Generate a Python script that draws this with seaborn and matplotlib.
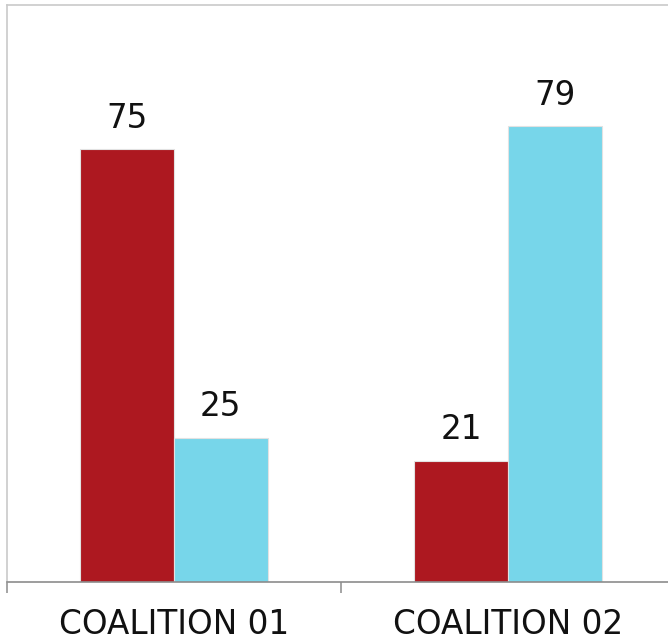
import numpy as np
import pandas as pd
import matplotlib
matplotlib.use("Agg")
import matplotlib.pyplot as plt
import seaborn as sns

# data
categories = ["COALITION 01", "COALITION 02"]
series = ["A", "B"]
values_a = [75, 21]
values_b = [25, 79]
colors = ["#AD1820", "#77D6EA"]

df = pd.DataFrame({
    "category": categories * 2,
    "series": [series[0]] * 2 + [series[1]] * 2,
    "value": values_a + values_b,
})

sns.set_style("white")
plt.rcParams["font.family"] = ["DejaVu Sans"]

fig = plt.figure(figsize=(6.68, 6.42), dpi=100)
ax = fig.add_axes([7 / 668, 1 - 582 / 642, 668 / 668, 577 / 642])

sns.barplot(data=df, x="category", y="value", hue="series", palette=colors,
            width=0.56, gap=0, saturation=1, legend=False, ax=ax,
            edgecolor="#e2e2e2", linewidth=0.8)

for cont in ax.containers:
    ax.bar_label(cont, padding=10.5, fontsize=23.5, color="#111111")

ax.set_ylim(0, 100)
ax.set_xlim(-0.5, 1.5)
ax.set_xlabel("")
ax.set_ylabel("")
ax.set_yticks([])
ax.set_xticks(range(len(categories)))
ax.set_xticklabels(categories, fontsize=23.5, color="#111111")
ax.set_xticks([-0.5, 0.5, 1.5], minor=True)
ax.tick_params(axis="x", which="major", length=0, pad=19)
ax.tick_params(axis="x", which="minor", length=8, width=1.1, color="#8c8c8c",
               direction="out", bottom=True)

for side in ["top", "left"]:
    ax.spines[side].set_color("#cacaca")
    ax.spines[side].set_linewidth(1.2)
ax.spines["bottom"].set_color("#8c8c8c")
ax.spines["bottom"].set_linewidth(1.2)
ax.spines["right"].set_visible(False)

plt.savefig("out.png", dpi=100)
